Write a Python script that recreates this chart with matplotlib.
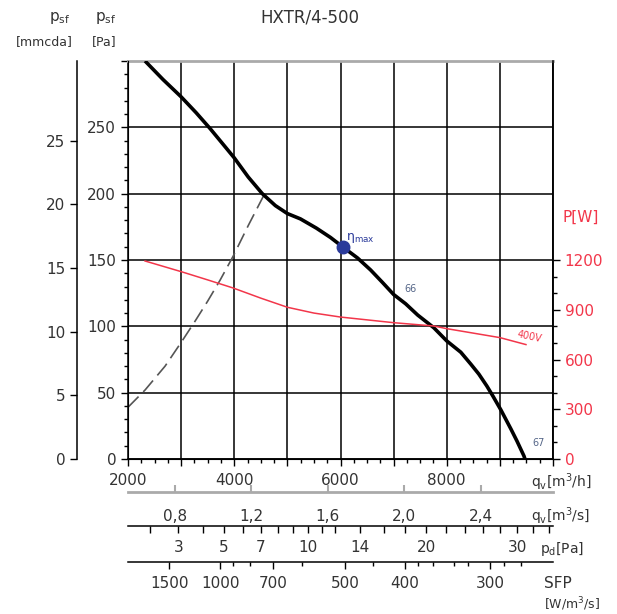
import numpy as np
import matplotlib.pyplot as plt
from matplotlib.ticker import FixedLocator, MultipleLocator

plt.rcParams['font.family'] = ['DejaVu Sans']
plt.rcParams['mathtext.default'] = 'regular'

# fan curve: airflow [m3/h] vs static pressure [Pa]
fan_q = [2321, 2660, 3000, 3283, 3547, 3774, 4000, 4264, 4528, 4774, 5000,
         5245, 5547, 5811, 6038, 6321, 6566, 6792, 7000, 7226, 7453, 7755,
         8000, 8264, 8453, 8604, 8755, 8868, 9019, 9208, 9321, 9453, 9472]
fan_p = [300, 286, 273, 261, 249, 238, 227, 212.5, 200, 191, 185,
         181, 174, 167, 160, 151.5, 142.5, 133, 124, 117, 108.5, 99,
         89, 80.5, 71.5, 64, 55, 47.5, 37, 22.6, 13.6, 2.3, 0]

# absorbed power [W], 400V
pw_q = [2321, 3019, 3500, 3981, 4500, 5000, 5500, 6000, 7000, 7755, 8000, 9000, 9491]
pw_w = [1194, 1128, 1080, 1031, 970, 915, 880, 856, 822, 802, 786, 732, 690]

# system curve (dashed)
sys_q = [2000, 2321, 2698, 3019, 3264, 3500, 3736, 3981, 4264, 4547]
sys_p = [39, 52, 70, 89, 104, 119, 135, 153, 176, 198]

# best efficiency point
eta_q, eta_p = 6038, 160

# bottom scales
qs_ticks = [0.8, 1.2, 1.6, 2.0, 2.4]
pd_major = [3, 5, 7, 10, 14, 20, 30]
pd_minor = [2, 4, 6, 8, 9, 11, 12, 16, 18, 22, 24, 26, 28, 32, 34]
sfp_labels = [1500, 1000, 700, 500, 400, 300]
sfp_q = [2774, 3736, 4736, 6094, 7208, 8811]
sfp_minor_q = [3981, 4302, 5283, 6604, 7453, 7736, 8132, 8396, 9075, 9396]

red = '#f2364a'
txt = '#333333'

fig = plt.figure(figsize=(6.17, 6.14), dpi=100)
ax = fig.add_axes([128 / 617, 1 - 459 / 614, 425 / 617, 398 / 614])

ax.set_xlim(2000, 10000)
ax.set_ylim(0, 300)
ax.set_xticks(range(2000, 10001, 1000),
              ['2000', '', '4000', '', '6000', '', '8000', '', ''])
ax.xaxis.set_minor_locator(MultipleLocator(250))
ax.set_yticks(range(0, 301, 50), ['0', '50', '100', '150', '200', '250', ''])
ax.yaxis.set_minor_locator(MultipleLocator(10))
ax.grid(True, color='black', lw=1.1)
ax.tick_params(which='both', direction='out', colors='black', labelcolor=txt,
               labelsize=11, width=1)
ax.tick_params(which='major', length=5)
ax.tick_params(which='minor', length=3)
ax.tick_params(axis='x', pad=5)
for s in ['left', 'bottom', 'right']:
    ax.spines[s].set_linewidth(1.1)
ax.spines['top'].set_color('#aaaaaa')
ax.spines['top'].set_linewidth(2)

ax.plot(sys_q, sys_p, color='#555555', lw=1.2, dashes=(9, 4), zorder=3)
ax.plot(fan_q, fan_p, color='black', lw=2.6, zorder=4, solid_capstyle='butt',
        solid_joinstyle='round')
ax.plot(eta_q, eta_p, 'o', color='#2a3a9a', ms=9, zorder=5)
ax.text(eta_q + 60, eta_p + 5, r'$\eta_{max}$', color='#2a3a9a', fontsize=9,
        zorder=6)
ax.text(7200, 126, '66', color='#556688', fontsize=7)
ax.text(9620, 10, '67', color='#556688', fontsize=7)

# power axis
ax2 = ax.twinx()
ax2.set_ylim(0, 2400)
ax2.plot(pw_q, pw_w, color=red, lw=1.1, zorder=3)
ax2.set_yticks(range(0, 1201, 300))
ax2.yaxis.set_minor_locator(FixedLocator([100, 200, 400, 500, 700, 800, 1000, 1100]))
ax2.tick_params(which='both', direction='out', colors='black', labelcolor=red,
                labelsize=11, width=1)
ax2.tick_params(which='major', length=5)
ax2.tick_params(which='minor', length=3)
ax2.spines['right'].set_linewidth(1.1)
ax2.spines['top'].set_visible(False)
ax2.text(9300, 705, '400V', color=red, fontsize=7, rotation=-12)

# mmcda axis
mm = ax.secondary_yaxis(-51 / 425, functions=(lambda p: p / 9.6, lambda m: m * 9.6))
mm.set_ticks([0, 5, 10, 15, 20, 25])
mm.tick_params(direction='out', length=5, width=1, colors='black',
               labelcolor=txt, labelsize=11)
mm.spines['left'].set_linewidth(1.1)

# m3/s axis
qs = ax.secondary_xaxis(-33 / 398, functions=(lambda q: q / 3600, lambda v: v * 3600))
qs.set_ticks(qs_ticks, [f'{v:.1f}'.replace('.', ',') for v in qs_ticks])
qs.tick_params(direction='in', length=5, width=1.5, colors='#aaaaaa',
               labelcolor=txt, labelsize=11, pad=12)
qs.spines['bottom'].set_color('#aaaaaa')
qs.spines['bottom'].set_linewidth(2)

# dynamic pressure axis
k = 3.45e-7
pd = ax.secondary_xaxis(-67 / 398, functions=(lambda q: k * np.asarray(q) ** 2,
                                               lambda p: np.sqrt(np.maximum(p, 0) / k)))
pd.set_ticks(pd_major)
pd.xaxis.set_minor_locator(FixedLocator(pd_minor))
pd.tick_params(which='both', direction='out', length=5, width=1, colors='black',
               labelcolor=txt, labelsize=11, pad=5)
pd.spines['bottom'].set_linewidth(1.1)

# SFP axis
sfp = ax.secondary_xaxis(-103 / 398)
sfp.set_ticks(sfp_q, [str(v) for v in sfp_labels])
sfp.xaxis.set_minor_locator(FixedLocator(sfp_minor_q))
sfp.tick_params(which='both', direction='out', width=1, colors='black',
                labelcolor=txt, labelsize=11, pad=5)
sfp.tick_params(which='major', length=5)
sfp.tick_params(which='minor', length=3)
sfp.spines['bottom'].set_linewidth(1.1)

# labels
def ftext(x, y, s, **kw):
    fig.text(x / 617, 1 - y / 614, s, va='center', **kw)

ftext(310, 17, 'HXTR/4-500', ha='center', fontsize=12, color=txt)
ftext(60, 18, r'p$_{sf}$', ha='center', fontsize=11, color=txt)
ftext(44, 42, '[mmcda]', ha='center', fontsize=9, color=txt)
ftext(106, 18, r'p$_{sf}$', ha='center', fontsize=11, color=txt)
ftext(104, 42, '[Pa]', ha='center', fontsize=9, color=txt)
ftext(563, 217, 'P[W]', ha='left', fontsize=11, color=red)
ftext(531, 482, r'q$_v$[m$^3$/h]', ha='left', fontsize=10, color=txt)
ftext(531, 516, r'q$_v$[m$^3$/s]', ha='left', fontsize=10, color=txt)
ftext(540, 549, r'p$_d$[Pa]', ha='left', fontsize=10, color=txt)
ftext(544, 584, 'SFP', ha='left', fontsize=11, color=txt)
ftext(544, 604, r'[W/m$^3$/s]', ha='left', fontsize=9, color=txt)

fig.savefig('out.png', dpi=100)
